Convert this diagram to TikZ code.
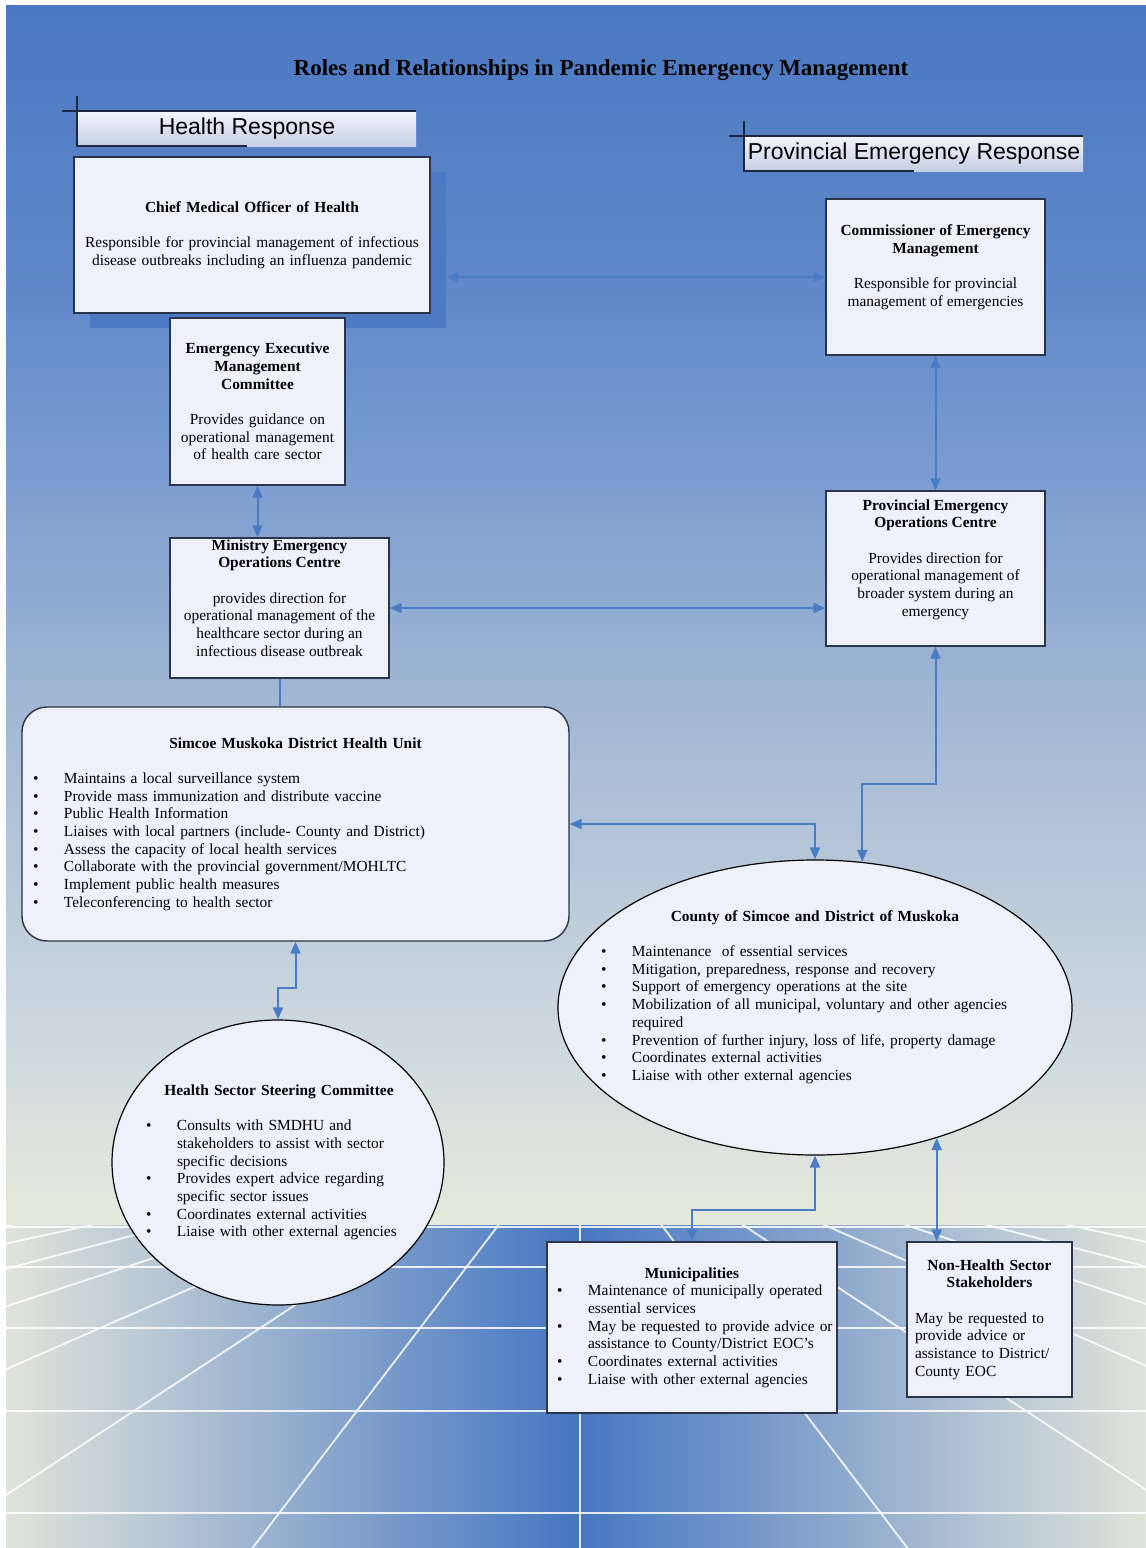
\documentclass[tikz,border=0pt]{standalone}
\usepackage{fontspec}
\setmainfont{Liberation Serif}
\newfontfamily\hdrfont{Liberation Sans}
\usetikzlibrary{arrows.meta,shapes.geometric}

\definecolor{skytop}{HTML}{4A78C2}
\definecolor{skyhigh}{HTML}{6189CA}
\definecolor{skymid}{HTML}{7E9FD0}
\definecolor{skylow}{HTML}{A2B8D4}
\definecolor{skypale}{HTML}{CAD5DE}
\definecolor{horizon}{HTML}{E6EADC}
\definecolor{floorside}{HTML}{E0E4DA}
\definecolor{floormid}{HTML}{4676C2}
\definecolor{boxfill}{HTML}{EEF1FA}
\definecolor{boxink}{HTML}{2B3448}
\definecolor{linkblue}{HTML}{4A7CC6}
\definecolor{shadowblue}{HTML}{4C7AC4}
\definecolor{hdrtop}{HTML}{F2F4FA}
\definecolor{hdrbot}{HTML}{C5D0E6}
\definecolor{hdrink}{HTML}{1E2840}

\pgfdeclareverticalshading{skyshade}{100bp}{color(0bp)=(horizon); color(25bp)=(horizon); color(34bp)=(skypale); color(46bp)=(skylow); color(55bp)=(skymid); color(63bp)=(skyhigh); color(75bp)=(skytop); color(100bp)=(skytop)}
\pgfdeclarehorizontalshading{floorshade}{100bp}{color(0bp)=(floorside); color(25bp)=(floorside); color(50bp)=(floormid); color(75bp)=(floorside); color(100bp)=(floorside)}

% bullet line with hanging indent
\newcommand{\bitem}[1]{\par\hangindent=31pt\hangafter=1\noindent\makebox[31pt][l]{\textbullet}#1\par}

\tikzset{
  every node/.style={font=\fontsize{15.4}{17.7}\selectfont, text=black},
  box/.style={draw=boxink, line width=1.4pt, fill=boxfill, inner sep=4pt, align=center},
  blob/.style={ellipse, draw=black, line width=1.2pt, fill=boxfill, inner sep=0pt},
  hdr/.style={top color=hdrtop, bottom color=hdrbot, minimum width=338pt, minimum height=35pt, inner sep=0pt, font=\hdrfont\fontsize{23}{26}\selectfont},
  hdrline/.style={draw=hdrink, line width=1.8pt},
  link/.style={draw=linkblue, line width=2pt, {Triangle[length=12pt,width=10pt]}-{Triangle[length=12pt,width=10pt]}},
  plainlink/.style={draw=linkblue, line width=2pt},
  gridline/.style={white, line width=1.8pt, opacity=.85}
}

\begin{document}
\begin{tikzpicture}[x=1pt,y=-1pt]
\useasboundingbox (0,0) rectangle (1146,1548);

% background
\fill[white] (0,0) rectangle (1146,1548);
\shade[shading=skyshade] (6,5) rectangle (1146,1225);
\shade[shading=floorshade] (6,1225) rectangle (1146,1548);
\begin{scope}
  \clip (6,1225) rectangle (1146,1548);
  \foreach \k in {-9,...,9}
    \draw[gridline] (580,1118) -- ++({332*\k},436);
  \foreach \y in {1227,1267,1328,1411,1513}
    \draw[gridline] (0,\y) -- (1146,\y);
\end{scope}

\node[font=\bfseries\fontsize{23}{26}\selectfont] (title) at (601,70) {Roles and Relationships in Pandemic Emergency Management};

% headers
\node[hdr] (hresp) at (247,128.5) {Health Response};
\node[hdr] (presp) at (914,153.5) {Provincial Emergency Response};
\foreach \h in {hresp,presp} {
  \draw[hdrline] ([xshift=-16pt]\h.north west) -- (\h.north east);
  \draw[hdrline] ([xshift=-1pt,yshift=15pt]\h.north west) -- ([xshift=-1pt]\h.south west) -- (\h.south);
}

% health side
\node[fill=shadowblue, minimum width=356pt, minimum height=156pt, inner sep=0pt] (cmohshadow) at (268,250) {};
\node[box, minimum width=356pt, minimum height=156pt, text width=344pt] (cmoh) at (252,235)
  {\textbf{Chief Medical Officer of Health}\\[17.7pt]
   Responsible for provincial management of infectious\\
   disease outbreaks including an influenza pandemic};
\node[box, minimum width=175pt, minimum height=167pt, text width=165pt] (eemc) at (257.5,401.5)
  {\textbf{Emergency Executive}\\ \textbf{Management}\\ \textbf{Committee}\\[17.7pt]
   Provides guidance on\\ operational management\\ of health care sector};
\node[box, minimum width=219pt, minimum height=140pt] (meoc) at (279.5,608) {};
\node[align=center] (meoctext) at (279.5,598)
  {\textbf{Ministry Emergency}\\ \textbf{Operations Centre}\\[17.7pt]
   provides direction for\\ operational management of the\\
   healthcare sector during an\\ infectious disease outbreak};

\node[box, rounded corners=25pt, minimum width=547pt, minimum height=234pt, text width=525pt, align=left] (smdhu) at (295.5,824)
  {{\centering\textbf{Simcoe Muskoka District Health Unit}\par}
   \vspace{17.7pt}
   \bitem{Maintains a local surveillance system}
   \bitem{Provide mass immunization and distribute vaccine}
   \bitem{Public Health Information}
   \bitem{Liaises with local partners (include- County and District)}
   \bitem{Assess the capacity of local health services}
   \bitem{Collaborate with the provincial government/MOHLTC}
   \bitem{Implement public health measures}
   \bitem{Teleconferencing to health sector}};

\node[blob, minimum width=332pt, minimum height=285pt] (hssc) at (278,1162.5) {};
\node[text width=266pt, align=left] (hssctext) at (279,1162.5)
  {{\centering\textbf{Health Sector Steering Committee}\par}
   \vspace{17.7pt}
   \bitem{Consults with SMDHU and\newline stakeholders to assist with sector\newline specific decisions}
   \bitem{Provides expert advice regarding\newline specific sector issues}
   \bitem{Coordinates external activities}
   \bitem{Liaise with other external agencies}};

% provincial side
\node[box, minimum width=219pt, minimum height=156pt] (cem) at (935.5,277) {};
\node[align=center] (cemtext) at (935.5,267)
  {\textbf{Commissioner of Emergency}\\ \textbf{Management}\\[17.7pt]
   Responsible for provincial\\ management of emergencies};
\node[box, minimum width=219pt, minimum height=155pt] (peoc) at (935.5,568.5) {};
\node[align=center] (peoctext) at (935.5,559.5)
  {\textbf{Provincial Emergency}\\ \textbf{Operations Centre}\\[17.7pt]
   Provides direction for\\ operational management of\\ broader system during an\\ emergency};

\node[blob, minimum width=514pt, minimum height=295pt] (county) at (815,1007.5) {};
\node[text width=428pt, align=left] (countytext) at (815,997)
  {{\centering\textbf{County of Simcoe and District of Muskoka}\par}
   \vspace{17.7pt}
   \bitem{Maintenance\ \ of essential services}
   \bitem{Mitigation, preparedness, response and recovery}
   \bitem{Support of emergency operations at the site}
   \bitem{Mobilization of all municipal, voluntary and other agencies\newline required}
   \bitem{Prevention of further injury, loss of life, property damage}
   \bitem{Coordinates external activities}
   \bitem{Liaise with other external agencies}};

\node[box, minimum width=290pt, minimum height=171pt, text width=270pt, align=left] (muni) at (692,1327.5)
  {{\centering\textbf{Municipalities}\par}
   \bitem{\mbox{Maintenance of municipally operated}\newline essential services}
   \bitem{\mbox{May be requested to provide advice or}\newline assistance to County/District EOC's}
   \bitem{Coordinates external activities}
   \bitem{Liaise with other external agencies}};
\node[box, minimum width=165pt, minimum height=155pt, text width=149pt, align=left] (nhss) at (989.5,1319.5)
  {{\centering\textbf{Non-Health Sector}\\ \textbf{Stakeholders}\par}
   \vspace{17.7pt}
   May be requested to\newline provide advice or\newline assistance to District/\newline County EOC};

% connectors
\draw[link] (cmohshadow.east |- cem.west) -- (cem.west);
\draw[link] (eemc.south) -- (eemc.south |- meoc.north);
\draw[link] (meoc.east) -- (meoc.east -| peoc.west);
\draw[plainlink] (meoc.south) -- (meoc.south |- smdhu.north);
\draw[link] (cem.south) -- (peoc.north);
\draw[link] (peoc.south) -- ++(0,137) -| (county.72);
\draw[link] (smdhu.east) -| (county.north);
\draw[link] (smdhu.south) -- ++(0,46) -| (hssc.north);
\draw[link] (county.south) -- ++(0,54) -| (muni.north);
\draw[link] (county.-47) -- (county.-47 |- nhss.north);
\end{tikzpicture}
\end{document}
